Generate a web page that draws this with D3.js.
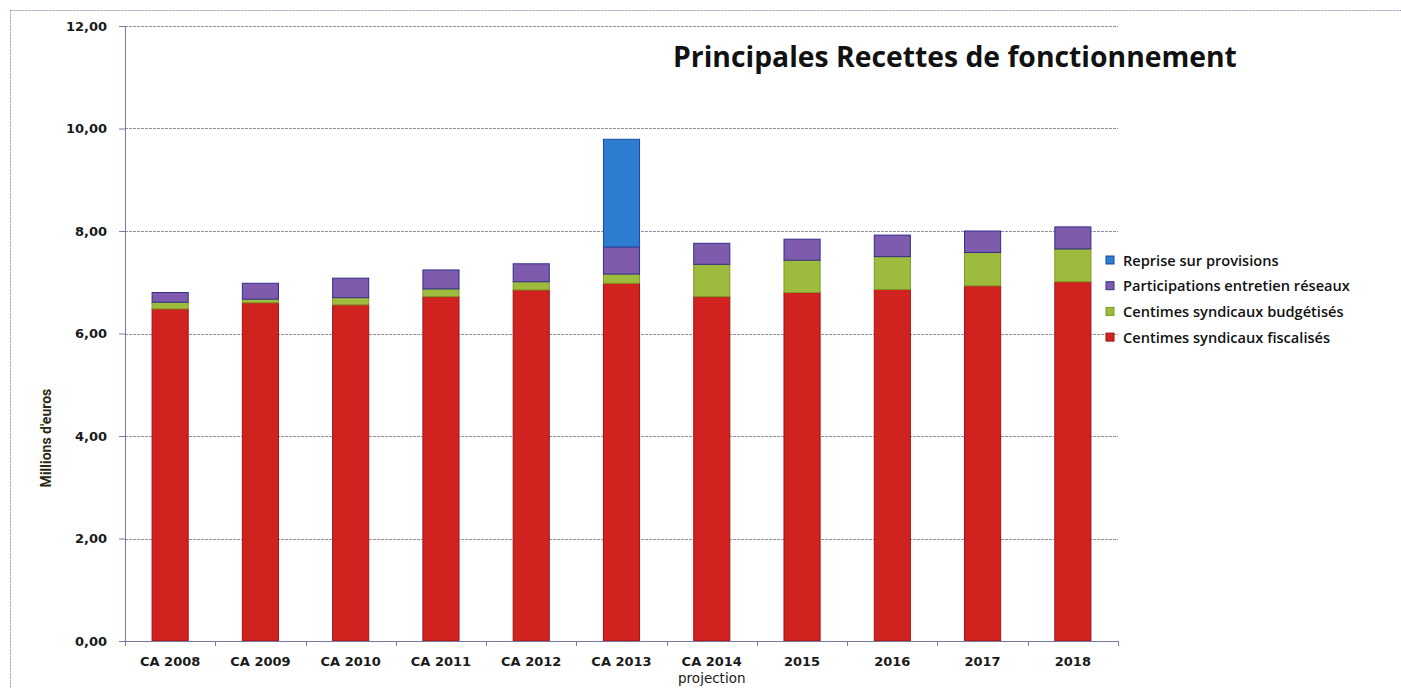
<!DOCTYPE html>
<html>
<head>
<meta charset="utf-8">
<script src="https://cdn.jsdelivr.net/npm/d3@7"></script>
<style>
  body { margin: 0; background: #fff; }
  text { font-family: "Open Sans", "DejaVu Sans", sans-serif; }
  .tickfont { font-family: "DejaVu Sans", Verdana, sans-serif; }
</style>
</head>
<body>
<svg id="chart"></svg>
<script>
// years (x axis), the 2014 one has a second line
const categories = ["CA 2008", "CA 2009", "CA 2010", "CA 2011", "CA 2012", "CA 2013", "CA 2014", "2015", "2016", "2017", "2018"];
const subLabels = ["", "", "", "", "", "", "projection", "", "", "", ""];

// millions d'euros
const fiscalises     = [6.48, 6.60, 6.56, 6.72, 6.85, 6.98, 6.72, 6.80, 6.86, 6.93, 7.01];
const budgetises     = [0.13, 0.07, 0.14, 0.15, 0.16, 0.18, 0.63, 0.63, 0.64, 0.65, 0.64];
const participations = [0.19, 0.31, 0.38, 0.37, 0.35, 0.53, 0.41, 0.41, 0.42, 0.42, 0.43];
const reprise        = [0, 0, 0, 0, 0, 2.10, 0, 0, 0, 0, 0];

const seriesNames = ["Centimes syndicaux fiscalisés", "Centimes syndicaux budgétisés", "Participations entretien réseaux", "Reprise sur provisions"];
const yTicks = [0, 2, 4, 6, 8, 10, 12];

const fills   = ["#d0221e", "#9dbb3c", "#7f5bae", "#2d7dd0"];
const strokes = ["#a01414", "#7d9a26", "#30308a", "#1d4aa0"];

const W = 1401, H = 688;
const margin = {top: 26, right: 283, bottom: 47, left: 125};
const width = W - margin.left - margin.right;
const height = H - margin.top - margin.bottom;

const svg = d3.select("#chart").attr("width", W).attr("height", H);

// shrink/grow a text so it spans a given width (the excel fonts are not here)
function fitWidth(sel, target) {
    sel.each(function() {
        const t = d3.select(this);
        const fs = +t.attr("font-size");
        const w = this.getComputedTextLength();
        t.attr("font-size", (fs * target / w).toFixed(2));
    });
}

// outer frame of the excel chart
svg.append("rect")
    .attr("x", 10.5).attr("y", 10.5)
    .attr("width", W - 6).attr("height", H)
    .attr("fill", "none")
    .attr("stroke", "#9a9ab8")
    .attr("stroke-dasharray", "2,1");

const g = svg.append("g").attr("transform", `translate(${margin.left},${margin.top})`);

const table = categories.map((c, i) => ({
    cat: c, s0: fiscalises[i], s1: budgetises[i], s2: participations[i], s3: reprise[i]
}));
const stack = d3.stack().keys(["s0", "s1", "s2", "s3"])(table);

const x = d3.scaleBand().domain(categories).range([0, width]).paddingInner(0.6).paddingOuter(0.3);
const y = d3.scaleLinear().domain([0, 12]).range([height, 0]);

// grid
g.selectAll("line.grid")
    .data(yTicks.filter(d => d > 0))
    .enter()
    .append("line")
    .attr("class", "grid")
    .attr("x1", 0).attr("x2", width)
    .attr("y1", d => Math.round(y(d)) + 0.5)
    .attr("y2", d => Math.round(y(d)) + 0.5)
    .attr("stroke", "#8f8fa6")
    .attr("stroke-width", 1)
    .attr("stroke-dasharray", "3,1");

// bars
g.selectAll("g.series")
    .data(stack)
    .enter()
    .append("g")
    .attr("class", "series")
    .attr("fill", (d, i) => fills[i])
    .attr("stroke", (d, i) => strokes[i])
    .selectAll("rect")
    .data(d => d.filter(p => p[1] - p[0] > 0))
    .enter()
    .append("rect")
    .attr("x", d => x(d.data.cat))
    .attr("y", d => y(d[1]))
    .attr("width", x.bandwidth())
    .attr("height", d => y(d[0]) - y(d[1]))
    .attr("stroke-width", 1);

// y axis
const yAxis = g.append("g")
    .call(d3.axisLeft(y).tickValues(yTicks).tickSize(6).tickPadding(12)
        .tickFormat(d => d3.format(".2f")(d).replace(".", ",")));
yAxis.select(".domain").attr("stroke", "#7878a0");
yAxis.selectAll(".tick line").attr("stroke", "#7878a0");
yAxis.selectAll("text")
    .attr("class", "tickfont")
    .attr("font-family", null)
    .attr("font-size", 13).attr("font-weight", "bold").attr("fill", "#1a1a1a");

// x axis: ticks sit on the band edges, like excel
const xAxis = g.append("g").attr("transform", `translate(0,${height})`);
xAxis.append("line")
    .attr("x1", 0).attr("x2", width)
    .attr("y1", 0.5).attr("y2", 0.5)
    .attr("stroke", "#7878a0");
const step = x.step();
const x0 = x(categories[0]) - step * x.paddingInner() / 2;
xAxis.selectAll("line.tk")
    .data(d3.range(categories.length + 1))
    .enter()
    .append("line")
    .attr("class", "tk")
    .attr("x1", i => Math.round(x0 + i * step) + 0.5)
    .attr("x2", i => Math.round(x0 + i * step) + 0.5)
    .attr("y1", 0).attr("y2", 5)
    .attr("stroke", "#7878a0");
xAxis.selectAll("text.lab")
    .data(categories)
    .enter()
    .append("text")
    .attr("class", "lab tickfont")
    .attr("x", d => x(d) + x.bandwidth() / 2)
    .attr("y", 25)
    .attr("text-anchor", "middle")
    .attr("font-size", 13).attr("font-weight", "bold").attr("fill", "#1a1a1a")
    .text(d => d);
xAxis.selectAll("text.sub")
    .data(categories.filter((d, i) => subLabels[i]))
    .enter()
    .append("text")
    .attr("class", "sub tickfont")
    .attr("x", d => x(d) + x.bandwidth() / 2)
    .attr("y", 42)
    .attr("text-anchor", "middle")
    .attr("font-size", 13.5).attr("fill", "#1a1a1a")
    .text(d => subLabels[categories.indexOf(d)]);

// y title
svg.append("text")
    .attr("transform", `translate(51,${margin.top + height * 0.67}) rotate(-90)`)
    .attr("text-anchor", "middle")
    .style("font-family", "'Liberation Sans Narrow', Roboto, sans-serif")
    .attr("font-size", 14).attr("font-weight", "bold")
    .attr("fill", "#2a2a10")
    .text("Millions d'euros");

// title
svg.append("text")
    .attr("x", 955).attr("y", 67)
    .attr("text-anchor", "middle")
    .attr("font-size", 27).attr("font-weight", "bold").attr("fill", "#111")
    .text("Principales Recettes de fonctionnement")
    .call(fitWidth, 564);

// legend, top entry is the top of the stack
const legendOrder = [3, 2, 1, 0];
const legend = svg.append("g").attr("transform", "translate(1106,255)");
const items = legend.selectAll("g")
    .data(legendOrder)
    .enter()
    .append("g")
    .attr("transform", (d, i) => `translate(0,${i * 25.7})`);
items.append("rect")
    .attr("x", 0).attr("y", 1)
    .attr("width", 8).attr("height", 8)
    .attr("fill", d => fills[d])
    .attr("stroke", d => strokes[d]);
const legendText = items.append("text")
    .attr("x", 17).attr("y", 10.5)
    .attr("font-size", 14).attr("font-weight", 600).attr("fill", "#111")
    .text(d => seriesNames[d]);
// size all entries alike, from the longest one
const longest = legendText.filter(d => d === 2);
fitWidth(longest, 227);
legendText.attr("font-size", longest.attr("font-size"));
</script>
</body>
</html>
